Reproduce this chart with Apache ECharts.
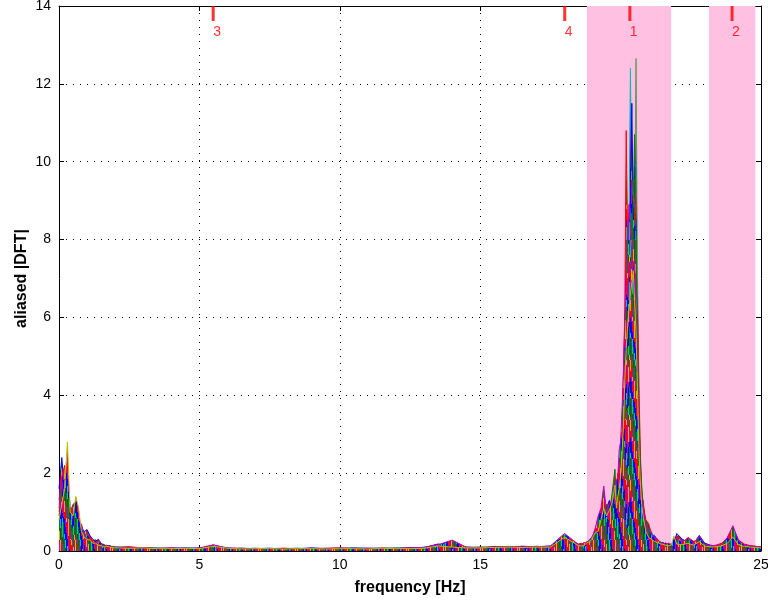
<!DOCTYPE html>
<html>
<head>
<meta charset="utf-8">
<script src="https://cdn.jsdelivr.net/npm/echarts@6/dist/echarts.min.js"></script>
<style>html,body{margin:0;padding:0;background:#fff;overflow:hidden}#c{width:768px;height:605px}</style>
</head>
<body>
<div id="c"></div>
<script>
// frequency grid [Hz]
const freq = [
  0,0.1,0.2,0.3,0.4,0.5,0.6,0.7,0.8,0.9,1.0,1.1,1.2,1.3,1.4,1.5,1.6,1.7,1.8,1.9,2.0,
  2.5,3,3.5,4,4.5,5,5.5,6,6.5,7,7.5,8,8.5,9,9.5,10,10.5,11,11.5,12,12.5,13,13.5,14,14.5,15,15.5,16,16.5,17,17.5,18,18.5,
  18.6,18.7,18.8,18.9,19.0,19.1,19.2,19.3,19.4,19.5,19.6,19.7,19.8,
  19.85,19.9,19.95,20.0,20.05,20.1,20.15,20.2,20.25,20.3,20.35,20.4,20.45,20.5,20.55,20.6,20.65,20.7,20.75,20.8,20.85,20.9,
  21.0,21.1,21.2,21.3,21.4,21.5,21.6,21.7,21.8,21.9,22.0,
  22.2,22.4,22.6,22.8,23.0,23.2,23.4,23.6,23.8,24.0,24.2,24.4,24.6,24.8,25.0
];
// aliased |DFT| spectra
const s1 = [1.2,1.5,1.8,1.3,0.9,0.8,0.9,0.6,0.5,0.4,0.35,0.3,0.25,0.2,0.22,0.18,0.15,0.14,0.12,0.12,0.1,
  0.09,0.08,0.07,0.08,0.06,0.07,0.12,0.07,0.06,0.07,0.06,0.07,0.06,0.07,0.06,0.08,0.07,0.06,0.08,0.07,0.09,0.08,0.14,0.1,0.08,0.09,0.1,0.11,0.1,0.12,0.11,0.25,0.15,
  0.15,0.18,0.2,0.3,0.35,0.5,0.7,0.9,1.2,0.9,1.1,1.2,1.6,
  1.4,1.7,1.5,2.2,2.8,3.6,5.0,6.2,6.8,7.5,7.0,8.2,7.8,8.6,12.65,7.2,4.5,2.6,1.6,1.2,0.9,0.7,
  0.5,0.4,0.3,0.25,0.2,0.18,0.2,0.15,0.18,0.15,0.2,
  0.22,0.3,0.2,0.3,0.18,0.14,0.12,0.15,0.25,0.5,0.22,0.15,0.12,0.11,0.1];
const s2 = [1.0,1.6,1.2,1.7,0.8,0.9,0.7,0.8,0.5,0.45,0.3,0.35,0.25,0.3,0.2,0.15,0.18,0.12,0.13,0.1,0.1,
  0.1,0.07,0.08,0.06,0.07,0.08,0.1,0.06,0.07,0.06,0.07,0.06,0.07,0.06,0.07,0.07,0.06,0.07,0.06,0.08,0.07,0.1,0.12,0.22,0.09,0.1,0.09,0.12,0.11,0.1,0.13,0.3,0.14,
  0.18,0.15,0.22,0.25,0.4,0.45,0.6,1.0,0.8,1.0,0.9,1.4,1.5,
  1.2,1.5,2.1,2.0,3.0,4.2,5.6,7.0,7.8,8.4,12.4,8.8,7.6,7.2,6.5,5.2,3.2,2.0,1.3,1.0,0.8,0.6,
  0.45,0.5,0.35,0.22,0.25,0.2,0.15,0.18,0.14,0.17,0.22,
  0.25,0.28,0.22,0.35,0.16,0.12,0.14,0.18,0.3,0.45,0.25,0.14,0.13,0.12,0.1];
const s3 = [1.6,2.4,1.5,2.0,1.1,0.8,1.0,0.7,0.6,0.5,0.55,0.4,0.3,0.25,0.3,0.2,0.15,0.12,0.14,0.1,0.1,
  0.08,0.09,0.06,0.07,0.08,0.06,0.15,0.08,0.06,0.06,0.07,0.05,0.06,0.08,0.06,0.06,0.08,0.07,0.07,0.06,0.08,0.09,0.18,0.12,0.1,0.08,0.11,0.1,0.12,0.11,0.12,0.38,0.16,
  0.12,0.2,0.18,0.28,0.3,0.4,0.8,0.7,1.0,1.1,1.3,1.0,1.8,
  1.5,1.3,1.8,2.6,3.2,4.0,6.0,6.5,7.5,8.0,9.0,11.5,8.5,7.8,7.0,6.0,3.6,2.2,1.5,1.1,0.9,0.7,
  0.6,0.35,0.4,0.3,0.2,0.22,0.18,0.17,0.15,0.2,0.45,
  0.3,0.22,0.18,0.4,0.2,0.15,0.13,0.16,0.28,0.55,0.2,0.16,0.12,0.1,0.09];
const s4 = [1.3,1.9,2.2,1.4,1.0,1.2,1.25,0.9,0.5,0.4,0.45,0.35,0.3,0.2,0.25,0.2,0.12,0.15,0.1,0.11,0.09,
  0.11,0.08,0.07,0.07,0.06,0.07,0.13,0.07,0.07,0.05,0.06,0.07,0.06,0.06,0.07,0.08,0.06,0.06,0.07,0.07,0.07,0.08,0.15,0.11,0.09,0.09,0.1,0.1,0.09,0.12,0.1,0.3,0.18,
  0.2,0.16,0.25,0.22,0.38,0.55,0.65,0.85,1.4,0.8,1.0,1.1,1.3,
  1.6,2.0,1.7,2.5,3.3,4.5,6.2,10.8,8.0,8.6,7.8,7.2,7.9,6.8,6.0,6.4,4.2,2.5,1.4,1.3,1.0,0.8,
  0.7,0.45,0.28,0.32,0.22,0.16,0.21,0.14,0.16,0.18,0.25,
  0.2,0.35,0.25,0.28,0.15,0.13,0.15,0.2,0.32,0.6,0.28,0.18,0.14,0.12,0.1];
const s5 = [0.9,1.4,1.0,1.6,0.7,0.6,0.8,0.5,0.45,0.3,0.35,0.25,0.2,0.18,0.15,0.12,0.14,0.1,0.09,0.1,0.08,
  0.08,0.07,0.07,0.06,0.07,0.06,0.11,0.06,0.06,0.07,0.05,0.06,0.07,0.05,0.06,0.06,0.07,0.06,0.06,0.07,0.06,0.08,0.12,0.09,0.08,0.1,0.08,0.09,0.1,0.1,0.11,0.2,0.13,
  0.14,0.17,0.2,0.26,0.32,0.42,0.55,0.75,0.9,1.2,0.95,1.5,2.1,
  1.3,1.6,2.2,2.4,3.0,3.8,5.2,6.6,7.2,7.8,8.5,8.0,9.0,10.7,8.2,5.6,3.5,2.3,1.7,1.2,0.8,0.6,
  0.4,0.38,0.32,0.2,0.18,0.2,0.17,0.16,0.13,0.15,0.2,
  0.18,0.25,0.16,0.26,0.14,0.11,0.12,0.14,0.22,0.4,0.18,0.13,0.11,0.1,0.09];
const s6 = [1.1,1.8,1.3,1.5,0.9,0.7,1.05,0.6,0.7,0.4,0.3,0.28,0.22,0.2,0.18,0.15,0.12,0.1,0.11,0.09,0.08,
  0.09,0.08,0.06,0.08,0.06,0.08,0.16,0.06,0.07,0.06,0.06,0.06,0.05,0.07,0.06,0.07,0.06,0.07,0.06,0.06,0.08,0.09,0.16,0.28,0.1,0.09,0.1,0.11,0.12,0.11,0.13,0.45,0.17,
  0.16,0.22,0.19,0.3,0.36,0.6,0.9,1.1,1.67,1.0,1.2,1.3,1.4,
  1.8,1.9,2.6,2.8,3.6,4.6,5.8,7.2,7.9,8.9,8.3,7.6,7.0,7.4,6.2,5.0,3.0,2.0,1.4,1.1,0.9,0.7,
  0.55,0.42,0.36,0.28,0.24,0.19,0.16,0.2,0.17,0.16,0.3,
  0.24,0.32,0.2,0.38,0.17,0.14,0.13,0.17,0.35,0.65,0.26,0.17,0.13,0.12,0.1];
const s7 = [0.8,1.2,1.6,2.8,1.0,0.9,1.4,1.1,0.5,0.35,0.3,0.28,0.2,0.2,0.15,0.14,0.1,0.12,0.1,0.09,0.08,
  0.07,0.08,0.06,0.06,0.07,0.06,0.12,0.07,0.05,0.06,0.06,0.05,0.06,0.06,0.05,0.06,0.06,0.05,0.07,0.06,0.06,0.07,0.13,0.1,0.08,0.08,0.09,0.1,0.09,0.1,0.1,0.35,0.14,
  0.13,0.14,0.21,0.24,0.34,0.48,0.5,0.8,1.1,0.9,1.05,1.25,1.7,
  1.1,1.4,1.6,1.9,2.5,3.2,4.4,5.2,5.8,6.2,6.6,6.9,7.2,6.4,5.6,4.2,2.6,1.8,1.2,0.9,0.7,0.5,
  0.35,0.3,0.25,0.22,0.19,0.17,0.15,0.14,0.15,0.38,0.18,
  0.16,0.2,0.15,0.24,0.13,0.1,0.11,0.13,0.2,0.35,0.16,0.12,0.1,0.09,0.08];
// drawing order (back to front) and line colours
const spectra = [s1, s2, s3, s4, s5, s6, s7];
const spectraColors = ['#6a9a60', '#00bfbf', '#0000ff', '#ff0000', '#008000', '#bf00bf', '#bfbf00'];

// highlighted bands [Hz]
const bands = [[18.8, 21.8], [23.15, 24.8]];
// mode markers at top
const markerFreqs = [20.33, 23.97, 5.49, 18.01];
const markerLabels = ['1', '2', '3', '4'];

const xTicks = [0, 5, 10, 15, 20, 25];
const yTicks = [0, 2, 4, 6, 8, 10, 12, 14];

// style: fill imitating the dense overlapping traces (irregular vertical streaks)
const streakPalette = ['#0000ff', '#ff0000', '#008000', '#00bfbf', '#bf00bf', '#bfbf00', '#404040', '#0000ff', '#ff0000', '#bf00bf', '#008000'];
const streakLens = [7, 13, 5, 17, 9, 11, 6, 15, 8, 19, 4, 12];
function streakPattern(shift) {
  const W = 37, H = 60;
  const cv = document.createElement('canvas');
  cv.width = W; cv.height = H;
  const g = cv.getContext('2d');
  for (let i = 0; i < W; i++) {
    let y = 0, j = 0;
    while (y < H) {
      const len = streakLens[(i * 5 + j * 7 + shift) % streakLens.length];
      g.fillStyle = streakPalette[(i * 4 + j * 3 + shift) % streakPalette.length];
      g.fillRect(i, y, 1, len);
      y += len; j++;
    }
  }
  return {image: cv, repeat: 'repeat'};
}

const FONT = "'Liberation Sans', Arial, Helvetica, sans-serif";
const chart = echarts.init(document.getElementById('c'), null, {renderer: 'canvas'});

const axisCommon = {
  axisLine: {show: true, onZero: false, lineStyle: {color: '#000', width: 1}},
  axisTick: {show: true, inside: true, length: 5, lineStyle: {color: '#000'}},
};

const series = [];
series.push({
  type: 'line', data: [], silent: true, z: 1,
  markArea: {silent: true, itemStyle: {color: '#ffc0e2', opacity: 1},
    data: bands.map(b => [{xAxis: b[0]}, {xAxis: b[1]}])}
});
spectra.forEach((s, k) => {
  series.push({
    type: 'line', z: 2 + k, symbol: 'none', silent: true,
    data: freq.map((f, i) => [f, s[i]]),
    lineStyle: {color: spectraColors[k], width: 1},
    areaStyle: {color: streakPattern(k * 2), opacity: 1}
  });
});
series.push({
  type: 'scatter', z: 20, silent: true,
  data: markerFreqs.map((f, i) => ({value: [f, 14], name: markerLabels[i]})),
  symbol: 'rect', symbolSize: [3, 15], symbolOffset: [0, 7.5],
  itemStyle: {color: '#ff0000'},
  label: {show: true, formatter: p => p.name, position: 'bottom', distance: 4,
    align: 'left', offset: [0, 0], color: '#ff0000', fontSize: 14, fontFamily: FONT}
});

chart.setOption({
  animation: false,
  backgroundColor: '#fff',
  grid: {left: 59, right: 7, top: 6, bottom: 54, containLabel: false, outerBoundsMode: 'none'},
  xAxis: [
    Object.assign({type: 'value', min: 0, max: 25, interval: 5, position: 'bottom',
      name: 'frequency [Hz]', nameLocation: 'middle', nameGap: 29, nameMoveOverlap: false,
      nameTextStyle: {fontSize: 16, fontWeight: 'bold', color: '#000', fontFamily: FONT},
      axisLabel: {color: '#000', fontSize: 14, fontFamily: FONT, margin: 7, formatter: v => xTicks.includes(v) ? String(v) : ''},
      splitLine: {show: true, lineStyle: {color: '#000', type: [1, 6], width: 1}}}, axisCommon),
    Object.assign({type: 'value', min: 0, max: 25, interval: 5, position: 'top',
      axisLabel: {show: false}, splitLine: {show: false}}, axisCommon)
  ],
  yAxis: [
    Object.assign({type: 'value', min: 0, max: 14, interval: 2, position: 'left',
      name: 'aliased |DFT|', nameLocation: 'middle', nameGap: 29, nameMoveOverlap: false,
      nameTextStyle: {fontSize: 16, fontWeight: 'bold', color: '#000', fontFamily: FONT},
      axisLabel: {color: '#000', fontSize: 14, fontFamily: FONT, margin: 8, formatter: v => yTicks.includes(v) ? String(v) : ''},
      splitLine: {show: true, lineStyle: {color: '#000', type: [1, 6], width: 1}}}, axisCommon),
    Object.assign({type: 'value', min: 0, max: 14, interval: 2, position: 'right',
      axisLabel: {show: false}, splitLine: {show: false}}, axisCommon)
  ],
  series: series
});
</script>
</body>
</html>
